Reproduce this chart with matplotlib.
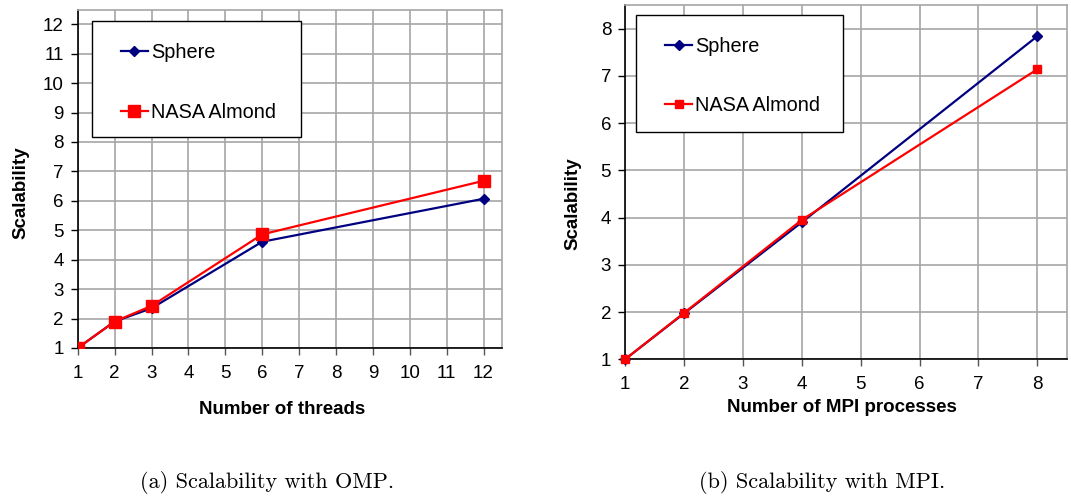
import matplotlib
matplotlib.use("Agg")
import matplotlib.pyplot as plt
from matplotlib.patches import Rectangle

# OpenMP scaling (threads)
omp_threads = [1, 2, 3, 6, 12]
omp_sphere = [1.0, 1.9, 2.35, 4.61, 6.07]
omp_almond = [1.0, 1.9, 2.43, 4.86, 6.68]
omp_xticks = list(range(1, 13))
omp_yticks = list(range(1, 13))

# MPI scaling (processes)
mpi_procs = [1, 2, 4, 8]
mpi_sphere = [1.0, 1.97, 3.9, 7.84]
mpi_almond = [1.0, 1.98, 3.95, 7.14]
mpi_xticks = list(range(1, 9))
mpi_yticks = list(range(1, 9))

series_names = ["Sphere", "NASA Almond"]
captions = ["(a) Scalability with OMP.", "(b) Scalability with MPI."]
xlabels = ["Number of threads", "Number of MPI processes"]

plt.rcParams["font.family"] = ["Liberation Sans", "DejaVu Sans"]

fig = plt.figure(figsize=(10.71, 4.96), dpi=100)
ax1 = fig.add_axes([0.0726, 0.2984, 0.3961, 0.6824])
ax2 = fig.add_axes([0.5836, 0.2756, 0.4125, 0.7143])

NAVY = "#000080"
RED = "#ff0000"
GRID = "#a6a6a6"


def style_axes(ax, xticks, yticks, xmax, ymax, xlabel, xlab_pos, ylab_pos):
    ax.set_xlim(1, xmax)
    ax.set_ylim(1, ymax)
    ax.set_xticks(xticks)
    ax.set_yticks(yticks)
    ax.grid(True, color=GRID, linewidth=1.2)
    ax.set_axisbelow(True)
    for side in ("top", "right"):
        ax.spines[side].set_color(GRID)
        ax.spines[side].set_linewidth(1.2)
    for side in ("left", "bottom"):
        ax.spines[side].set_color("black")
        ax.spines[side].set_linewidth(1.2)
    ax.tick_params(axis="both", direction="out", length=5, width=1.0,
                   labelsize=13.5)
    ax.tick_params(axis="x", colors="#555555", labelcolor="black", pad=7)
    ax.tick_params(axis="y", colors="black", pad=5)
    ax.set_xlabel(xlabel, fontsize=13.5, fontweight="bold", va="center")
    ax.set_ylabel("Scalability", fontsize=13.5, fontweight="bold", va="center")
    ax.xaxis.set_label_coords(*xlab_pos)
    ax.yaxis.set_label_coords(*ylab_pos)


def add_legend(ax, box, anchor):
    x0, y0, x1, y1 = box
    ax.add_patch(Rectangle((x0, y0), x1 - x0, y1 - y0, transform=ax.transAxes,
                           facecolor="white", edgecolor="black", linewidth=1.0,
                           zorder=5, clip_on=False))
    leg = ax.legend(loc="upper left", bbox_to_anchor=anchor, fontsize=14.3,
                    frameon=False, labelspacing=2.05, borderpad=0,
                    handlelength=1.35, handletextpad=0.15, borderaxespad=0)
    leg.set_zorder(6)
    return leg


ax1.plot(omp_threads, omp_sphere, color=NAVY, linewidth=1.6, marker="D",
         markersize=5, label=series_names[0], zorder=3)
ax1.plot(omp_threads, omp_almond, color=RED, linewidth=1.6, marker="s",
         markersize=8, label=series_names[1], zorder=4)
style_axes(ax1, omp_xticks, omp_yticks, 12.5, 12.5, xlabels[0],
           (0.4815, -0.183), (-0.134, 0.459))
add_legend(ax1, (0.0337, 0.6242, 0.5263, 0.9669), (0.102, 0.900))

ax2.plot(mpi_procs, mpi_sphere, color=NAVY, linewidth=1.6, marker="D",
         markersize=5, label=series_names[0], zorder=3, clip_on=False)
ax2.plot(mpi_procs, mpi_almond, color=RED, linewidth=1.6, marker="s",
         markersize=6, label=series_names[1], zorder=4, clip_on=False)
style_axes(ax2, mpi_xticks, mpi_yticks, 8.5, 8.5, xlabels[1],
           (0.4907, -0.1355), (-0.118, 0.440))
add_legend(ax2, (0.0242, 0.6424, 0.4934, 0.9718), (0.091, 0.911))

fig.text(0.2493, 0.028, captions[0], ha="center", va="center",
         family="cmr10", fontsize=16)
fig.text(0.7675, 0.028, captions[1], ha="center", va="center",
         family="cmr10", fontsize=16)

fig.savefig("out.png", dpi=100)
